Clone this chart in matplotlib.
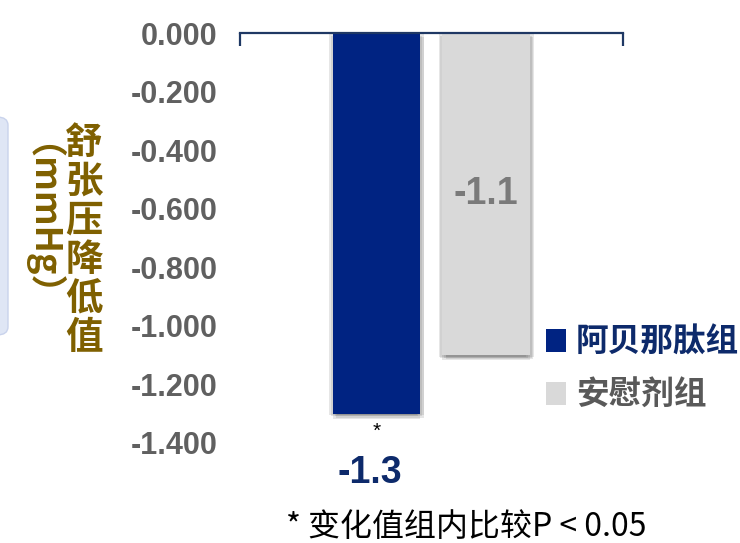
import matplotlib
matplotlib.use('Agg')
import matplotlib.pyplot as plt
from matplotlib.patches import FancyBboxPatch, Patch
import matplotlib.patheffects as pe

groups = ['阿贝那肽组', '安慰剂组']
values = [-1.3, -1.1]
value_labels = ['-1.3', '-1.1']
bar_colors = ['#002382', '#d9d9d9']
value_colors = ['#0d2a6b', '#7a7a7a']
legend_colors = ['#0d2a6b', '#595959']
yticks = [0.0, -0.2, -0.4, -0.6, -0.8, -1.0, -1.2, -1.4]
ytick_labels = ['0.000', '-0.200', '-0.400', '-0.600', '-0.800', '-1.000', '-1.200', '-1.400']
ylabel_main = '舒张压降低值'
ylabel_unit = '（mmHg）'
footnote = '* 变化值组内比较P < 0.05'

CJK = ['Noto Sans CJK SC', 'DejaVu Sans']
LAT = ['Liberation Sans', 'DejaVu Sans']

fig = plt.figure(figsize=(7.4, 5.43), dpi=100)
ax = fig.add_axes([240/740, 1-443/543, 383/740, 410/543])

x = list(range(len(values)))
shadow = [pe.SimplePatchShadow(offset=o, shadow_rgbFace='#444444', alpha=0.13)
          for o in [(-1.5, -2), (1.5, -2), (2.5, -3), (0, -3.5), (3, -1), (-2.5, -1)]] + [pe.Normal()]
bars = ax.bar(x, values, width=0.8, color=bar_colors, zorder=3)
for b in bars:
    b.set_path_effects(shadow)

ax.set_xlim(-1.247, 2.253)
ax.set_ylim(-1.4, 0)

ax.set_yticks(yticks)
ax.set_yticklabels(ytick_labels, fontsize=22, fontweight='bold', color='#606060', family=LAT)
ax.tick_params(axis='y', length=0, pad=16)

for s in ['left', 'right', 'bottom']:
    ax.spines[s].set_visible(False)
ax.spines['top'].set_color('#1f3864')
ax.spines['top'].set_linewidth(1.6)
ax.spines['top'].set_zorder(6)
ax.xaxis.set_ticks_position('top')
ax.set_xticks(list(ax.get_xlim()))
ax.tick_params(axis='x', direction='in', length=9, width=1.6, color='#1f3864',
               labeltop=False, labelbottom=False)

# value labels
ax.annotate(value_labels[0], (x[0], values[0]), xytext=(-5, -43), textcoords='offset points',
            ha='center', va='center', fontsize=27, fontweight='bold', color=value_colors[0], family=LAT)
ax.annotate('*', (x[0], values[0]), xytext=(0, -6), textcoords='offset points',
            ha='center', va='top', fontsize=15, color='black', family=LAT)
ax.text(x[1], values[1]/2, value_labels[1], ha='center', va='center', fontsize=27,
        fontweight='bold', color=value_colors[1], family=LAT, zorder=5)

# y label
fig.text(84/740, 1-240/543, '\n'.join(ylabel_main), ha='center', va='center', fontsize=27,
         fontweight='bold', color='#7f6000', family=CJK, linespacing=1.0)
fig.text(22/740, 1-238/543, ylabel_unit, ha='center', va='center', fontsize=26, rotation=270,
         fontweight='bold', color='#7f6000', family=CJK)

# left decorative box
box = FancyBboxPatch((-0.05, 1-335/543), 0.05+8/740, (335-117)/543,
                     boxstyle='round,pad=0,rounding_size=0.015', transform=fig.transFigure,
                     facecolor='#dfe6f5', edgecolor='#c9d3ec', linewidth=1.0)
fig.patches.append(box)

# legend
handles = [Patch(facecolor=c, edgecolor='none') for c in bar_colors]
leg = fig.legend(handles, groups, loc='upper left', bbox_to_anchor=(546/740, 1-326/543),
                 frameon=False, prop={'family': CJK, 'size': 23.5, 'weight': 'bold'},
                 handlelength=0.62, handleheight=0.7, handletextpad=0.3, labelspacing=0.6,
                 borderpad=0, borderaxespad=0)
for t, c in zip(leg.get_texts(), legend_colors):
    t.set_color(c)

fig.text(466/740, 1-527/543, footnote, ha='center', va='center', fontsize=23, color='black', family=CJK)

fig.savefig('out.png', dpi=100)
